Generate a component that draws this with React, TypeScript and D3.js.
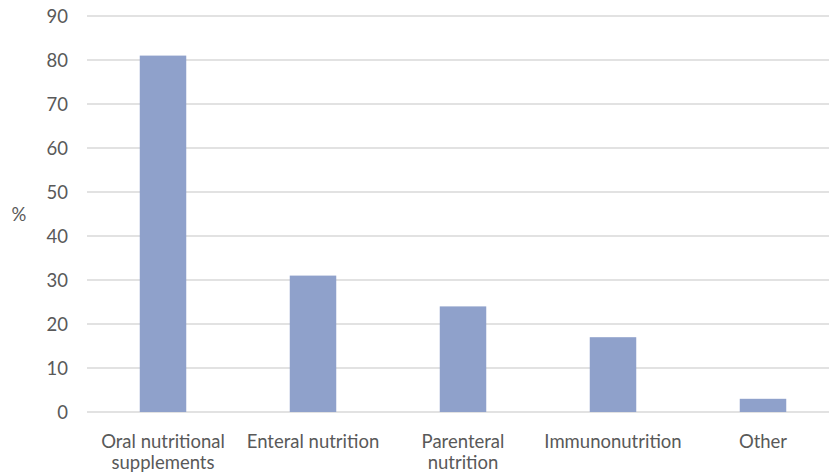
import React from "react";
import * as d3 from "d3";

const categories: string[][] = [
  ["Oral nutritional", "supplements"],
  ["Enteral nutrition"],
  ["Parenteral", "nutrition"],
  ["Immunonutrition"],
  ["Other"],
];
const values: number[] = [81, 31, 24, 17, 3];
const yTicks: number[] = [0, 10, 20, 30, 40, 50, 60, 70, 80, 90];
const yLabel = "%";

const W = 829;
const H = 475;

export default function App() {
  const x = d3
    .scaleBand<number>()
    .domain(values.map((_, i) => i))
    .range([88, 838])
    .paddingInner(0.69)
    .paddingOuter(0.345);
  const y = d3.scaleLinear().domain([0, 90]).range([412, 16]);
  const font = "Lato, 'Open Sans', sans-serif";
  const textColor = "#595959";
  return (
    <svg
      width={W}
      height={H}
      style={{ position: "absolute", left: 0, top: 0, background: "#fff" }}
    >
      {yTicks.map((t) => (
        <g key={t}>
          <line x1={87} x2={W} y1={y(t)} y2={y(t)} stroke="#d9d9d9" strokeWidth={1.5} />
          <text
            x={68}
            y={y(t)}
            dy="0.36em"
            textAnchor="end"
            fontFamily={font}
            fontSize={18.5}
            fill={textColor}
          >
            {t}
          </text>
        </g>
      ))}
      {values.map((v, i) => (
        <rect
          key={i}
          x={x(i)}
          y={y(v)}
          width={x.bandwidth()}
          height={y(0) - y(v)}
          fill="#8FA1CB"
        />
      ))}
      {categories.map((lines, i) => (
        <text
          key={i}
          x={(x(i) ?? 0) + x.bandwidth() / 2}
          y={448}
          textAnchor="middle"
          fontFamily={font}
          fontSize={18.5}
          fill={textColor}
        >
          {lines.map((l, j) => (
            <tspan key={j} x={(x(i) ?? 0) + x.bandwidth() / 2} dy={j === 0 ? 0 : 21}>
              {l}
            </tspan>
          ))}
        </text>
      ))}
      <text
        x={19}
        y={214}
        dy="0.36em"
        textAnchor="middle"
        fontFamily={font}
        fontSize={18.5}
        fill={textColor}
      >
        {yLabel}
      </text>
    </svg>
  );
}
